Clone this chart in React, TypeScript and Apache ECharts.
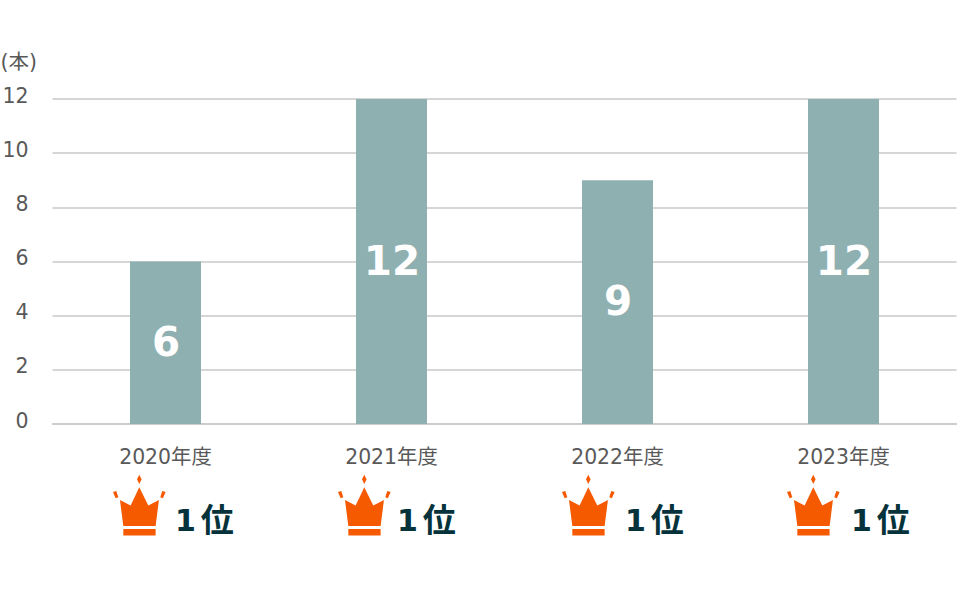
import React, { useEffect, useRef } from "react";
import * as echarts from "echarts";

const categories = ["2020年度", "2021年度", "2022年度", "2023年度"];
const values = [6, 12, 9, 12];
const rankNumbers = ["1", "1", "1", "1"];
const rankUnit = "位";
const yTicks = { min: 0, max: 12, interval: 2 };
const unitLabel = "(本)";
const crownOffsets = [100, 325, 549, 774];
const rankTextX = [175, 397, 625, 851];

const FONT = '"DejaVu Sans", "Noto Sans CJK JP", sans-serif';
const GRAY = "#595959";

const crownPath =
  "M118 104 L125 118 L118 132 L111 118 Z " +
  "M118 142 L145 197 L177 180 L167 258 L70 258 L60 180 L92 197 Z " +
  "M70 267 L167 267 L167 287 L70 287 Z " +
  "M39 156 L49 153 L55 172 L47 175 Z " +
  "M197 156 L187 153 L181 172 L189 175 Z";

echarts.graphic.registerShape("crownIcon", echarts.graphic.extendPath(crownPath as any, {} as any) as any);

export default function App() {
  const ref = useRef<HTMLDivElement>(null);
  useEffect(() => {
    document.body.style.margin = "0";
    const chart = echarts.init(ref.current!, undefined, { renderer: "svg" });
    chart.setOption({
      animation: false,
      backgroundColor: "#ffffff",
      textStyle: { fontFamily: FONT },
      grid: { left: 52.5, right: 14.5, top: 99, bottom: 169, outerBoundsMode: "none" },
      xAxis: {
        type: "category",
        data: categories,
        axisTick: { show: false },
        axisLine: { lineStyle: { color: "#c9c9c9", width: 1.5 } },
        axisLabel: { color: GRAY, fontSize: 20.4, margin: 23, fontFamily: FONT },
      },
      yAxis: {
        type: "value",
        ...yTicks,
        name: unitLabel,
        nameLocation: "end",
        nameGap: 27,
        nameTextStyle: { color: GRAY, fontSize: 20.5, align: "left", padding: [0, 0, 0, -52], fontFamily: FONT },
        axisLine: { show: false },
        axisTick: { show: false },
        axisLabel: { color: GRAY, fontSize: 20.5, margin: 24, verticalAlign: "bottom", lineHeight: 7, fontFamily: FONT },
        splitLine: { lineStyle: { color: "#c9c9c9", width: 1.5 } },
      },
      series: [
        {
          type: "bar",
          data: values,
          barWidth: 71,
          itemStyle: { color: "#8fb0b0" },
          label: {
            show: true,
            position: "inside",
            offset: [0.5, -1],
            color: "#ffffff",
            fontSize: 40.5,
            fontWeight: "bold",
            fontFamily: FONT,
          },
        },
      ],
      graphic: [
        ...crownOffsets.map((x) => ({
          type: "crownIcon",
          x,
          y: 440,
          scaleX: 1 / 3,
          scaleY: 1 / 3,
          style: { fill: "#f55a00" },
        })),
        ...rankNumbers.map((n, i) => ({
          type: "text",
          x: rankTextX[i],
          y: 520,
          style: {
            text: `{n|${n}}{s| }{k|${rankUnit}}`,
            fill: "#06333b",
            fontSize: 14,
            fontWeight: "bold",
            fontFamily: FONT,
            verticalAlign: "middle",
            rich: {
              n: { fontSize: 30, fontWeight: "bold", fontFamily: FONT, fill: "#06333b" },
              s: { fontSize: 14, fontWeight: "bold", fontFamily: FONT, fill: "#06333b" },
              k: { fontSize: 33, fontWeight: "bold", fontFamily: FONT, fill: "#06333b" },
            },
          },
        })),
      ],
    });
    return () => chart.dispose();
  }, []);
  return <div ref={ref} style={{ width: 971, height: 593 }} />;
}
